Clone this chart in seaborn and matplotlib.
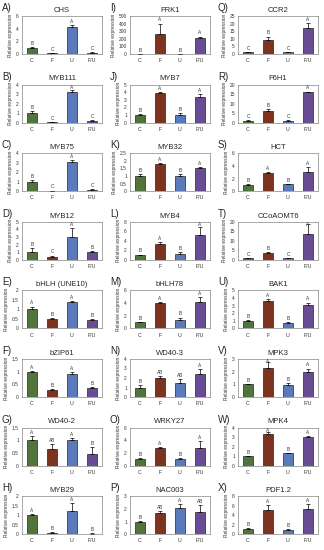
import numpy as np
import pandas as pd
import matplotlib
matplotlib.use('Agg')
import matplotlib.pyplot as plt
import seaborn as sns

# panel data (means, errors, letters, y-limits/tick step)
groups = ['C', 'F', 'U', 'F/U']
panels = ['A)', 'B)', 'C)', 'D)', 'E)', 'F)', 'G)', 'H)',
          'I)', 'J)', 'K)', 'L)', 'M)', 'N)', 'O)', 'P)',
          'Q)', 'R)', 'S)', 'T)', 'U)', 'V)', 'W)', 'X)']
genes = ['CHS', 'MYB111', 'MYB75', 'MYB12', 'bHLH (UNE10)', 'bZIP61', 'WD40-2', 'MYB29',
         'FRK1', 'MYB7', 'MYB32', 'MYB4', 'bHLH78', 'WD40-3', 'WRKY27', 'NAC003',
         'CCR2', 'F6H1', 'HCT', 'CCoAOMT6', 'BAK1', 'MPK3', 'MPK4', 'PDF1.2']
means = [
    [1.0, 0.1, 4.2, 0.2], [1.0, 0.08, 3.2, 0.2], [1.0, 0.05, 3.1, 0.15], [1.0, 0.4, 3.0, 1.0],
    [1.0, 0.47, 1.4, 0.42], [1.0, 0.27, 0.9, 0.37], [1.0, 0.65, 1.0, 0.47], [1.03, 0.08, 1.2, 0.03],
    [0.5, 265, 0.5, 205], [1.0, 3.9, 1.05, 3.4], [1.0, 1.8, 1.02, 1.55], [1.0, 3.3, 1.2, 5.3],
    [1.0, 4.0, 1.3, 4.2], [1.0, 2.0, 1.45, 2.45], [1.0, 2.7, 1.05, 2.8], [1.0, 1.65, 2.05, 1.75],
    [1.0, 9.0, 1.0, 17.0], [1.0, 6.0, 1.0, 16.0], [1.0, 2.8, 1.1, 3.0], [0.8, 3.7, 0.8, 13.5],
    [1.0, 3.6, 0.7, 3.1], [1.0, 2.3, 0.95, 1.95], [1.0, 3.3, 1.3, 3.0], [1.0, 5.0, 0.9, 5.4],
]
errors = [
    [0.15, 0.03, 0.4, 0.05], [0.2, 0.02, 0.2, 0.05], [0.15, 0.01, 0.2, 0.05], [0.5, 0.15, 1.2, 0.2],
    [0.15, 0.08, 0.02, 0.08], [0.03, 0.05, 0.1, 0.02], [0.15, 0.2, 0.08, 0.25], [0.02, 0.03, 0.45, 0.01],
    [0.3, 135, 0.3, 25], [0.1, 0.1, 0.15, 0.35], [0.15, 0.05, 0.12, 0.03], [0.1, 0.5, 0.4, 1.6],
    [0.05, 0.1, 0.4, 0.7], [0.25, 0.2, 0.45, 0.45], [0.15, 0.2, 0.15, 1.1], [0.03, 0.15, 0.35, 0.55],
    [0.2, 2.5, 0.2, 3.5], [0.3, 1.0, 0.3, 0.3], [0.1, 0.2, 0.05, 0.8], [0.1, 0.4, 0.1, 5.5],
    [0.1, 0.3, 0.1, 0.3], [0.05, 0.45, 0.15, 0.3], [0.03, 0.25, 0.05, 0.15], [0.3, 1.1, 0.15, 1.0],
]
letters = [
    ['B', 'C', 'A', 'C'], ['B', 'C', 'A', 'C'], ['B', 'C', 'A', 'C'], ['B', 'C', 'A', 'B'],
    ['A', 'B', 'A', 'B'], ['A', 'B', 'A', 'B'], ['A', 'AB', 'A', 'B'], ['A', 'B', 'A', 'B'],
    ['B', 'A', 'B', 'A'], ['B', 'A', 'B', 'A'], ['B', 'A', 'B', 'A'], ['B', 'A', 'B', 'A'],
    ['B', 'A', 'B', 'A'], ['B', 'AB', 'AB', 'A'], ['B', 'A', 'B', 'A'], ['B', 'AB', 'A', 'AB'],
    ['C', 'B', 'C', 'A'], ['C', 'B', 'C', 'A'], ['B', 'A', 'B', 'A'], ['C', 'B', 'C', 'A'],
    ['B', 'A', 'B', 'A'], ['B', 'A', 'B', 'A'], ['B', 'A', 'B', 'A'], ['B', 'A', 'B', 'A'],
]
ymax = [6, 4, 4, 5, 2, 1.5, 1.5, 2,
        500, 5, 2.5, 8, 6, 4, 6, 3,
        25, 20, 6, 20, 5, 3, 4, 8]
ystep = [2, 1, 1, 1, 0.5, 0.5, 0.5, 0.5,
         100, 1, 0.5, 2, 2, 1, 2, 1,
         5, 5, 2, 5, 1, 1, 1, 2]

palette = ['#4E7D34', '#8E2A10', '#4A74CC', '#6640A0']

fig = plt.figure(figsize=(3.24, 5.5), dpi=100)
sns.set_style('white')
plt.rcParams['font.family'] = ['Liberation Sans', 'DejaVu Sans']

W, H = 324, 550
col_left = [22, 130, 238]
ax_w = 80
ax_h = 38
row_top0 = 16
row_pitch = 68.6

for i in range(24):
    col, row = i // 8, i % 8
    top = row_top0 + row * row_pitch
    ax = fig.add_axes([col_left[col] / W, 1 - (top + ax_h) / H, ax_w / W, ax_h / H])

    df = pd.DataFrame({'group': groups, 'value': means[i]})
    sns.barplot(data=df, x='group', y='value', hue='group', palette=palette,
                width=0.5, edgecolor='black', linewidth=0.4, legend=False, ax=ax)
    ax.errorbar(range(4), means[i], yerr=[np.zeros(4), errors[i]], fmt='none',
                ecolor='black', elinewidth=0.5, capsize=1.2, capthick=0.5)

    for j in range(4):
        ly = min(means[i][j] + errors[i][j] + ymax[i] * 0.03, ymax[i] * 0.86)
        ax.text(j, ly, letters[i][j],
                ha='center', va='bottom', fontsize=3.4, color='#333333')

    ax.set_ylim(0, ymax[i])
    ax.set_xlim(-0.5, 3.5)
    ticks = np.arange(0, ymax[i] + ystep[i] / 2, ystep[i])
    ax.set_yticks(ticks)
    ax.set_yticklabels([f'{t:g}' for t in ticks], fontsize=3.5, color='#333333')
    ax.set_xticks(range(4))
    ax.set_xticklabels(groups, fontsize=3.8, color='#333333')
    ax.tick_params(axis='y', length=1.2, width=0.4, pad=1)
    ax.tick_params(axis='x', length=0, pad=3)
    ax.set_xlabel('')
    ax.set_ylabel('Relative expression', fontsize=3.5, labelpad=2, color='#333333')
    for s in ax.spines.values():
        s.set_linewidth(0.4)
        s.set_color('#666666')
    ax.set_title(genes[i], fontsize=5.5, pad=3)

    fig.text((col_left[col] - 20) / W, 1 - (top - 8) / H, panels[i],
             fontsize=7, ha='left', va='center')

fig.savefig('out.png', dpi=100)
